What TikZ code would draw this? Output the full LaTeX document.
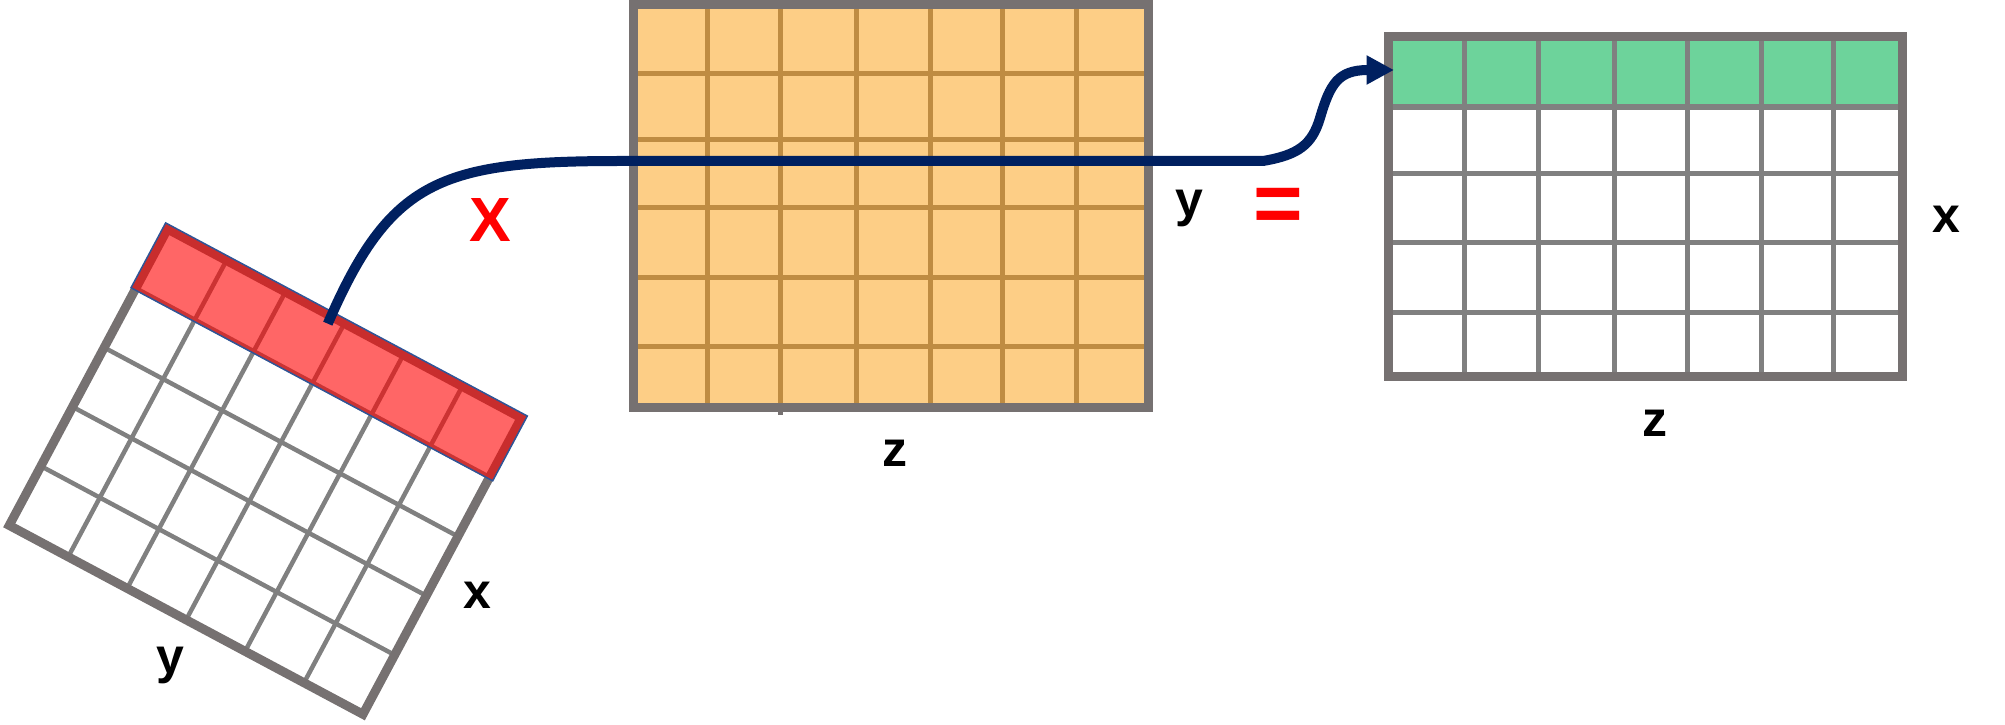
\documentclass[tikz,border=0pt]{standalone}
\usepackage{fontspec}
\setmainfont{Liberation Sans}
\usetikzlibrary{arrows.meta}
\definecolor{bordergray}{HTML}{767171}
\definecolor{linegray}{HTML}{808080}
\definecolor{orangefill}{HTML}{FDCE86}
\definecolor{orangeline}{HTML}{BF8C42}
\definecolor{greenfill}{HTML}{6DD39B}
\definecolor{navy}{HTML}{002060}
\definecolor{bandblue}{HTML}{2F5597}
\begin{document}
\begin{tikzpicture}[x=0.4pt,y=-0.4pt,
  lbl/.style={font=\bfseries\fontsize{20pt}{24pt}\selectfont, inner sep=0pt, text=black},
  bigred/.style={font=\bfseries\fontsize{25pt}{30pt}\selectfont, inner sep=0pt, text=red},
  gridborder/.style={draw=bordergray, line width=3.6pt},
  orangegrid/.style={draw=orangeline, line width=2pt},
  graygrid/.style={draw=linegray, line width=2pt},
  rotgrid/.style={draw=linegray, line width=1.8pt},
  flow/.style={draw=navy, line width=4pt, -{Triangle[length=11pt,width=11pt]}}]
\useasboundingbox (0,0) rectangle (2005,725);

% middle (orange) grid
\fill[orangefill] (633.4,4.5) rectangle (1148,407);
\foreach \x in {707.5,780.4,856.4,930,1002.5,1076.4}
  \draw[orangegrid] (\x,9) -- (\x,403);
\foreach \y in {73.3,139.3,207.3,277.3,346.3}
  \draw[orangegrid] (637.9,\y) -- (1143.9,\y);
\draw[draw=bordergray, line width=2pt] (780.4,408) -- (780.4,415);
\draw[gridborder] (633.4,4.5) rectangle (1148,407);

% right (result) grid
\fill[greenfill] (1388.5,36.7) rectangle (1902.5,107.3);
\foreach \x in {1464.4,1538.3,1614.3,1687.2,1761.6,1833.5}
  \draw[graygrid] (\x,36.7) -- (\x,376);
\foreach \y in {173.3,242.3,312.3}
  \draw[graygrid] (1388.5,\y) -- (1902.5,\y);
\draw[draw=linegray, line width=2.4pt] (1388.5,107.3) -- (1902.5,107.3);
\draw[gridborder] (1388.5,36.7) rectangle (1902.5,376);
\coordinate (tgt) at (1394,70);

% rotated grid
\begin{scope}[shift={(167.5,229)}, rotate=-28.1]
  \foreach \i in {1,...,5}
    \draw[rotgrid] (\i*66.83,0) -- (\i*66.83,336);
  \foreach \j in {1,...,4}
    \draw[rotgrid] (0,\j*67.2) -- (401,\j*67.2);
  \draw[gridborder] (0,0) rectangle (401,336);
  \fill[red, fill opacity=0.6] (-4.5,-4.5) rectangle (405.5,69);
  \draw[draw=bandblue, line width=0.6pt] (-4.5,-4.5) rectangle (405.5,69);
  \coordinate (src) at (186,8);
\end{scope}

% connector
\draw[flow] (src) .. controls (390,180) and (440,161) .. (620,161)
  -- (1263,161) .. controls (1298,155) and (1312,145) .. (1320,118)
  .. controls (1330,84) and (1338,70) .. (tgt);

% labels
\node[bigred] (lblX) at (490,220.5) {X};
\node[bigred, font=\bfseries\fontsize{34pt}{40pt}\selectfont] (lblEq) at (1278,210) {=};
\node[lbl] (lblYm) at (1189,208) {y};
\node[lbl] (lblZm) at (895,453) {z};
\node[lbl] (lblXg) at (1946,219) {x};
\node[lbl] (lblZg) at (1655,423) {z};
\node[lbl] (lblXr) at (477.5,595) {x};
\node[lbl] (lblYr) at (170.5,665) {y};
\end{tikzpicture}
\end{document}
